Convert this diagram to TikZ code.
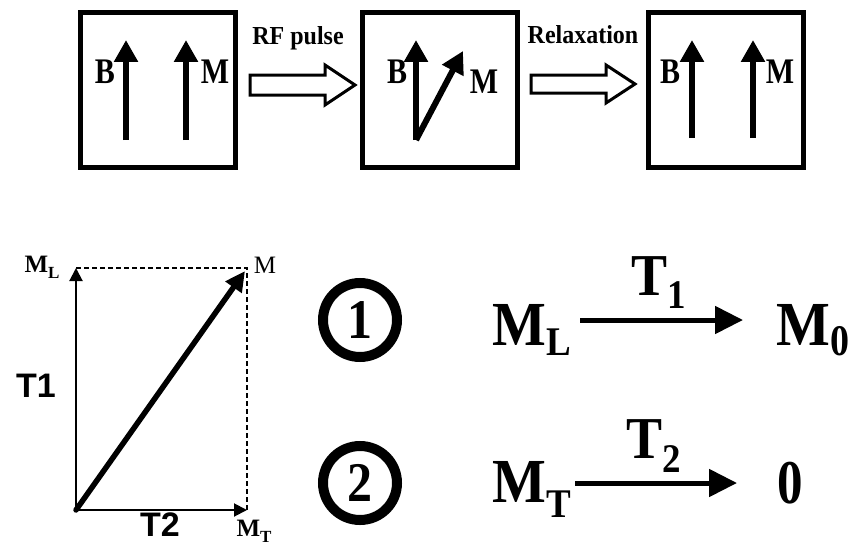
\documentclass[tikz,border=0pt]{standalone}
\usepackage{fontspec}
\usepackage{graphicx}
\setmainfont{Liberation Serif}
\newfontfamily\sansfam{Liberation Sans}
\usetikzlibrary{arrows.meta}
\newcommand{\fsz}[1]{\fontsize{#1}{#1}\selectfont}
\newcommand{\vstr}[2][1.12]{\scalebox{1}[#1]{#2}}
\tikzset{
  box/.style={draw, line width=5pt, minimum width=155pt, minimum height=155pt, inner sep=0pt},
  vec/.style={line width=6pt, -{Triangle[width=23pt,length=22pt]}},
  hollow/.style={draw, line width=3pt, line join=miter},
  lbl/.style={font=\bfseries\fsz{30}, inner sep=0pt},
  steplbl/.style={font=\bfseries\fsz{24}, inner sep=0pt},
  axis/.style={line width=2pt, -{Triangle[width=13pt,length=13pt]}},
  thickvec/.style={line width=5.5pt, -{Triangle[width=19pt,length=20pt]}},
  dashln/.style={line width=1.3pt, dash pattern=on 5pt off 3pt},
  small/.style={font=\bfseries\fsz{25}, inner sep=0pt},
  tlbl/.style={font=\sansfam\bfseries\fsz{34}, inner sep=0pt},
  ring/.style={draw, circle, line width=10pt, minimum size=74pt, inner sep=0pt, font=\bfseries\fsz{50}},
  big/.style={font=\bfseries\fsz{57}, inner sep=0pt},
  eqarrow/.style={line width=5pt, -{Triangle[width=27pt,length=28pt]}}
}
\begin{document}
\begin{tikzpicture}[x=1pt,y=-1pt]
\useasboundingbox (0,0) rectangle (856,551);
% top boxes
\node[box] (b1) at (158,90) {};
\node[box] (b2) at (440,90) {};
\node[box] (b3) at (725.5,90) {};
% box 1
\coordinate (b1Bs) at (126,140); \coordinate (b1Be) at (126,40);
\coordinate (b1Ms) at (186,140); \coordinate (b1Me) at (186,40);
\draw[vec] (b1Bs) -- (b1Be);
\draw[vec] (b1Ms) -- (b1Me);
\node[lbl, anchor=base] (b1B) at (105,83) {\vstr[1.2]{B}};
\node[lbl, anchor=base] (b1M) at (215,83) {\vstr[1.2]{M}};
% box 2
\coordinate (b2Bs) at (416,140); \coordinate (b2Be) at (416,40);
\coordinate (b2Me) at (463,51);
\draw[vec] (b2Bs) -- (b2Be);
\draw[vec] (b2Bs) -- (b2Me);
\node[lbl, anchor=base] (b2B) at (397,83) {\vstr[1.2]{B}};
\node[lbl, anchor=base] (b2M) at (484,93) {\vstr[1.2]{M}};
% box 3
\coordinate (b3Bs) at (692,138); \coordinate (b3Be) at (692,40);
\coordinate (b3Ms) at (753,138); \coordinate (b3Me) at (753,40);
\draw[vec] (b3Bs) -- (b3Be);
\draw[vec] (b3Ms) -- (b3Me);
\node[lbl, anchor=base] (b3B) at (670,83) {\vstr[1.2]{B}};
\node[lbl, anchor=base] (b3M) at (780,83) {\vstr[1.2]{M}};
% hollow arrows
\draw[hollow] (250,75) -- (325,75) -- (325,65) -- (355,85) -- (325,105) -- (325,95) -- (250,95) -- cycle;
\draw[hollow] (531,75) -- (606,75) -- (606,65) -- (635,84) -- (606,103) -- (606,93) -- (531,93) -- cycle;
\node[steplbl, anchor=base] (rf) at (298,45) {\vstr[1.08]{RF pulse}};
\node[steplbl, anchor=base] (rel) at (583,44) {\vstr[1.08]{Relaxation}};
% bottom-left vector diagram
\coordinate (O) at (76,510);
\coordinate (L) at (76,268);
\coordinate (T) at (247,510);
\coordinate (Mp) at (247,268);
\draw[dashln] (L) -- (Mp) -- (T);
\draw[axis] (O) -- (L);
\draw[axis] (O) -- (T);
\draw[thickvec, line cap=round] (O) -- (245,271);
\node[small, anchor=base] (mlsmall) at (42,272) {M\raisebox{-6pt}{\fsz{17}L}};
\node[font=\fsz{25}, inner sep=0pt, anchor=base] (msmall) at (265,273) {M};
\node[small, anchor=base] (mtsmall) at (254,536) {M\raisebox{-6pt}{\fsz{17}T}};
\node[tlbl] (t1) at (36,386) {T1};
\node[tlbl] (t2) at (160,525) {T2};
% right side
\node[ring] (c1) at (360,320) {\vstr{1}};
\node[ring] (c2) at (360,483) {\vstr{2}};
\node[big, anchor=base west] (ML) at (492,345) {\vstr[1.1]{M}\raisebox{-10pt}{\fsz{37}\vstr[1.1]{L}}};
\node[big, anchor=base west] (M0) at (776,345) {\vstr[1.1]{M}\raisebox{-10pt}{\fsz{38}\vstr[1.15]{0}}};
\coordinate (a1s) at (580,320); \coordinate (a1e) at (743,320);
\draw[eqarrow] (a1s) -- (a1e);
\node[big, anchor=base west] (T1) at (631,295) {\fsz{54}\vstr[1.1]{T}\raisebox{-13pt}{\fsz{37}\vstr[1.1]{1}}};
\node[big, anchor=base west] (MT) at (492,502) {\vstr[1.1]{M}\raisebox{-15pt}{\fsz{37}\vstr[1.1]{T}}};
\node[big, anchor=base west] (zero) at (777,503) {\fsz{51}\vstr[1.22]{0}};
\coordinate (a2s) at (575,483); \coordinate (a2e) at (737,483);
\draw[eqarrow] (a2s) -- (a2e);
\node[big, anchor=base west] (T2) at (626,458) {\fsz{54}\vstr[1.1]{T}\raisebox{-14pt}{\fsz{37}\vstr[1.1]{2}}};
\end{tikzpicture}
\end{document}
